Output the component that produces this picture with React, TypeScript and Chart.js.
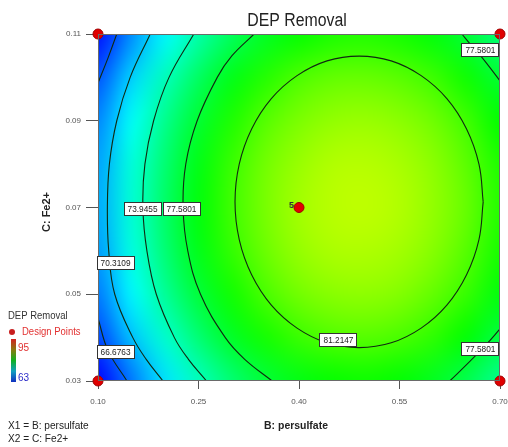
import React, { useEffect, useRef } from 'react';
import { Chart, registerables } from 'chart.js';

Chart.register(...registerables);

const SANS = '"Liberation Sans", Arial, sans-serif';

// Axis ticks
const xTicks = [0.1, 0.25, 0.4, 0.55, 0.7];
const yTicks = [0.03, 0.05, 0.07, 0.09, 0.11];

// Response surface grid (DEP removal %), read from the colour field
const xGrid = [0.1, 0.15, 0.2, 0.25, 0.3, 0.35, 0.4, 0.45, 0.5, 0.55, 0.6, 0.65, 0.7];
const yGrid = [0.11, 0.1, 0.09, 0.08, 0.07, 0.06, 0.05, 0.04, 0.03];
const row011 = [63.4, 67.4, 70.8, 73.7, 76.1, 77.9, 79.1, 79.8, 80.0, 79.6, 78.7, 77.2, 75.2];
const row010 = [65.6, 69.6, 73.1, 76.0, 78.3, 80.1, 81.4, 82.1, 82.2, 81.8, 80.9, 79.4, 77.4];
const row009 = [67.2, 71.2, 74.6, 77.5, 79.9, 81.7, 82.9, 83.6, 83.8, 83.4, 82.5, 81.0, 79.0];
const row008 = [68.1, 72.1, 75.5, 78.4, 80.8, 82.6, 83.8, 84.6, 84.7, 84.3, 83.4, 81.9, 79.9];
const row007 = [68.3, 72.3, 75.8, 78.7, 81.0, 82.8, 84.1, 84.8, 85.0, 84.6, 83.6, 82.2, 80.1];
const row006 = [67.9, 71.9, 75.4, 78.3, 80.6, 82.4, 83.7, 84.4, 84.5, 84.1, 83.2, 81.7, 79.7];
const row005 = [66.8, 70.8, 74.3, 77.2, 79.5, 81.3, 82.6, 83.3, 83.5, 83.1, 82.1, 80.7, 78.6];
const row004 = [65.1, 69.1, 72.5, 75.4, 77.8, 79.6, 80.8, 81.5, 81.7, 81.3, 80.4, 78.9, 76.9];
const row003 = [62.7, 66.7, 70.1, 73.0, 75.4, 77.2, 78.4, 79.1, 79.3, 78.9, 78.0, 76.5, 74.5];
const removalRows = [row011, row010, row009, row008, row007, row006, row005, row004, row003];

const colorMin = 63;
const colorMax = 95;

// Contour lines [persulfate, Fe2+]
const contour66Top = [[0.128, 0.11], [0.115, 0.1045], [0.1, 0.0987]];
const contour66Bottom = [[0.1, 0.0445], [0.115, 0.037], [0.1433, 0.03]];
const contour70 = [[0.178, 0.11], [0.148, 0.1], [0.128, 0.09], [0.117, 0.08], [0.114, 0.07], [0.116, 0.06], [0.125, 0.05], [0.152, 0.04], [0.172, 0.035], [0.197, 0.03]];
const contour74 = [[0.243, 0.11], [0.206, 0.1], [0.183, 0.09], [0.17, 0.08], [0.167, 0.07], [0.173, 0.06], [0.187, 0.05], [0.214, 0.04], [0.235, 0.035], [0.262, 0.03]];
const contour78Left = [[0.333, 0.11], [0.3, 0.105], [0.278, 0.1], [0.248, 0.09], [0.231, 0.08], [0.227, 0.07], [0.234, 0.06], [0.253, 0.05], [0.29, 0.04], [0.319, 0.035], [0.36, 0.03]];
const contour78TopRight = [[0.643, 0.11], [0.657, 0.1074], [0.673, 0.1046], [0.7, 0.0992]];
const contour78BottomRight = [[0.625, 0.03], [0.655, 0.0345], [0.68, 0.0385], [0.7, 0.042]];
const contour81 = [
  [0.6749, 0.0713], [0.6686, 0.08], [0.6501, 0.0881], [0.6207, 0.0951], [0.5823, 0.1004], [0.5376, 0.1038],
  [0.4897, 0.1049], [0.4418, 0.1038], [0.3971, 0.1004], [0.3587, 0.0951], [0.3293, 0.0881], [0.3108, 0.08],
  [0.3045, 0.0713], [0.3108, 0.0626], [0.3293, 0.0545], [0.3587, 0.0475], [0.3971, 0.0422], [0.4418, 0.0388],
  [0.4897, 0.0377], [0.5376, 0.0388], [0.5823, 0.0422], [0.6207, 0.0475], [0.6501, 0.0545], [0.6686, 0.0626],
  [0.6749, 0.0713],
];
const contourLines = [contour66Top, contour66Bottom, contour70, contour74, contour78Left, contour78TopRight, contour78BottomRight, contour81];

// Contour level labels
const labelText = ['77.5801', '73.9455', '77.5801', '70.3109', '66.6763', '81.2147', '77.5801'];
const labelX = [0.67, 0.1657, 0.2239, 0.1254, 0.1254, 0.4582, 0.67];
const labelY = [0.1065, 0.0697, 0.0697, 0.0574, 0.0367, 0.0395, 0.0374];

// Design points
const designX = [0.1, 0.1, 0.7, 0.7, 0.4];
const designY = [0.03, 0.11, 0.03, 0.11, 0.07];
const designCount = ['', '', '', '', '5'];

const stops: [number, number[]][] = [
  [0, [0, 0, 255]],
  [0.25, [0, 255, 255]],
  [0.5, [0, 255, 0]],
  [0.75, [255, 255, 0]],
  [1, [255, 0, 0]],
];

function colorFor(v: number): number[] {
  let t = (v - colorMin) / (colorMax - colorMin);
  t = Math.max(0, Math.min(1, t));
  for (let k = 0; k < stops.length - 1; k++) {
    const [t0, c0] = stops[k];
    const [t1, c1] = stops[k + 1];
    if (t <= t1) {
      const f = (t - t0) / (t1 - t0);
      return [0, 1, 2].map((i) => Math.round(c0[i] + (c1[i] - c0[i]) * f));
    }
  }
  return stops[stops.length - 1][1];
}

function squeezedText(ctx: CanvasRenderingContext2D, text: string, x: number, y: number, sx: number) {
  ctx.save();
  ctx.translate(x, y);
  ctx.scale(sx, 1);
  ctx.fillText(text, 0, 0);
  ctx.restore();
}

const heatmapPlugin = {
  id: 'heatmap',
  beforeDatasetsDraw(chart: any) {
    const { ctx, chartArea, scales } = chart;
    const xs = scales.x;
    const ys = scales.y;
    const nx = xGrid.length;
    const ny = yGrid.length;
    const off = document.createElement('canvas');
    off.width = nx;
    off.height = ny;
    const octx = off.getContext('2d')!;
    const img = octx.createImageData(nx, ny);
    for (let j = 0; j < ny; j++) {
      for (let i = 0; i < nx; i++) {
        const c = colorFor(removalRows[j][i]);
        const idx = (j * nx + i) * 4;
        img.data[idx] = c[0];
        img.data[idx + 1] = c[1];
        img.data[idx + 2] = c[2];
        img.data[idx + 3] = 255;
      }
    }
    octx.putImageData(img, 0, 0);
    const x0 = xs.getPixelForValue(xGrid[0]);
    const x1 = xs.getPixelForValue(xGrid[nx - 1]);
    const y0 = ys.getPixelForValue(yGrid[0]);
    const y1 = ys.getPixelForValue(yGrid[ny - 1]);
    const dx = (x1 - x0) / (nx - 1);
    const dy = (y1 - y0) / (ny - 1);
    ctx.save();
    ctx.beginPath();
    ctx.rect(chartArea.left, chartArea.top, chartArea.right - chartArea.left, chartArea.bottom - chartArea.top);
    ctx.clip();
    ctx.imageSmoothingEnabled = true;
    ctx.imageSmoothingQuality = 'high';
    ctx.drawImage(off, x0 - dx / 2, y0 - dy / 2, dx * nx, dy * ny);
    ctx.restore();
  },
  afterDatasetsDraw(chart: any) {
    const { ctx, chartArea, scales } = chart;
    const xs = scales.x;
    const ys = scales.y;
    ctx.save();
    // frame
    ctx.strokeStyle = '#6a6a6a';
    ctx.lineWidth = 1;
    ctx.strokeRect(chartArea.left + 0.5, chartArea.top + 0.5, chartArea.right - chartArea.left - 1, chartArea.bottom - chartArea.top - 1);
    // contour labels
    ctx.font = `9px ${SANS}`;
    ctx.textAlign = 'center';
    ctx.textBaseline = 'middle';
    for (let k = 0; k < labelText.length; k++) {
      const px = xs.getPixelForValue(labelX[k]);
      const py = ys.getPixelForValue(labelY[k]);
      const w = 37;
      const h = 13;
      ctx.fillStyle = '#ffffff';
      ctx.fillRect(Math.round(px - w / 2) + 0.5, Math.round(py - h / 2) + 0.5, w, h);
      ctx.strokeStyle = '#333333';
      ctx.strokeRect(Math.round(px - w / 2) + 0.5, Math.round(py - h / 2) + 0.5, w, h);
      ctx.fillStyle = '#222222';
      squeezedText(ctx, labelText[k], px + 0.5, py + 1, 0.92);
    }
    // design point counts
    ctx.font = `bold 9px ${SANS}`;
    ctx.textAlign = 'right';
    ctx.fillStyle = '#333';
    for (let k = 0; k < designX.length; k++) {
      if (!designCount[k]) continue;
      ctx.fillText(designCount[k], xs.getPixelForValue(designX[k]) - 5, ys.getPixelForValue(designY[k]) - 2);
    }
    ctx.restore();
  },
  afterDraw(chart: any) {
    const { ctx } = chart;
    ctx.save();
    ctx.fillStyle = '#222';
    ctx.textAlign = 'center';
    ctx.textBaseline = 'middle';
    ctx.font = `18px ${SANS}`;
    squeezedText(ctx, 'DEP Removal', 297, 21, 0.88);
    ctx.font = `bold 11px ${SANS}`;
    squeezedText(ctx, 'B: persulfate', 296, 426, 0.95);
    ctx.save();
    ctx.translate(47, 212);
    ctx.rotate(-Math.PI / 2);
    ctx.fillText('C: Fe2+', 0, 0);
    ctx.restore();

    // legend block
    ctx.textAlign = 'left';
    ctx.font = `10px ${SANS}`;
    ctx.fillStyle = '#333';
    squeezedText(ctx, 'DEP Removal', 8, 316, 0.95);
    ctx.fillStyle = '#c81e1e';
    ctx.beginPath();
    ctx.arc(12, 332, 3, 0, Math.PI * 2);
    ctx.fill();
    ctx.fillStyle = '#e23030';
    squeezedText(ctx, 'Design Points', 22, 332, 0.95);
    const g = ctx.createLinearGradient(0, 339, 0, 382);
    g.addColorStop(0, '#d42020');
    g.addColorStop(0.25, '#8a7a10');
    g.addColorStop(0.5, '#10b020');
    g.addColorStop(0.75, '#10a0c0');
    g.addColorStop(1, '#1030c0');
    ctx.fillStyle = g;
    ctx.fillRect(11, 339, 5, 43);
    ctx.fillStyle = '#e03030';
    ctx.fillText('95', 18, 348);
    ctx.fillStyle = '#2a2ac8';
    ctx.fillText('63', 18, 378);
    ctx.fillStyle = '#222';
    ctx.font = `11px ${SANS}`;
    squeezedText(ctx, 'X1 = B: persulfate', 8, 426, 0.92);
    squeezedText(ctx, 'X2 = C: Fe2+', 8, 439, 0.92);
    ctx.restore();
  },
};

export default function App() {
  const ref = useRef<HTMLCanvasElement>(null);
  useEffect(() => {
    if (!ref.current) return;
    const lineSets = contourLines.map((pts) => ({
      type: 'scatter' as const,
      data: pts.map(([x, y]) => ({ x, y })),
      showLine: true,
      borderColor: '#102a10',
      borderWidth: 1.1,
      pointRadius: 0,
      tension: 0.4,
      order: 2,
    }));
    const chart = new Chart(ref.current, {
      type: 'scatter',
      data: {
        datasets: [
          {
            data: designX.map((x, i) => ({ x, y: designY[i] })),
            pointRadius: 5,
            pointBackgroundColor: '#e00000',
            pointBorderColor: '#a00000',
            pointBorderWidth: 1,
            clip: false,
            order: 0,
          } as any,
          ...lineSets,
        ],
      },
      options: {
        responsive: false,
        animation: false,
        events: [],
        layout: { padding: { top: 34, right: 0, left: 0, bottom: 0 } },
        plugins: { legend: { display: false }, tooltip: { enabled: false }, title: { display: false } },
        scales: {
          x: {
            type: 'linear',
            min: 0.1,
            max: 0.7,
            afterBuildTicks: (s: any) => {
              s.ticks = xTicks.map((v) => ({ value: v }));
            },
            afterFit: (s: any) => {
              s.height = 66;
              s.paddingRight = 8;
              s.paddingLeft = 0;
            },
            ticks: {
              autoSkip: false,
              maxRotation: 0,
              padding: 8,
              color: '#555',
              font: { size: 8, family: SANS },
              callback: (v: any) => Number(v).toFixed(2),
            },
            grid: { display: true, drawOnChartArea: false, drawTicks: true, tickLength: 8, tickColor: '#555', color: '#555' },
            border: { display: false },
          },
          y: {
            type: 'linear',
            min: 0.03,
            max: 0.11,
            afterBuildTicks: (s: any) => {
              s.ticks = yTicks.map((v) => ({ value: v }));
            },
            afterFit: (s: any) => {
              s.width = 98;
            },
            ticks: {
              autoSkip: false,
              padding: 5,
              color: '#555',
              font: { size: 8, family: SANS },
              callback: (v: any) => Number(v).toFixed(2),
            },
            grid: { display: true, drawOnChartArea: false, drawTicks: true, tickLength: 12, tickColor: '#555', color: '#555' },
            border: { display: false },
          },
        },
      },
      plugins: [heatmapPlugin],
    });
    return () => chart.destroy();
  }, []);
  return (
    <div style={{ position: 'fixed', left: 0, top: 0, width: 508, height: 447, background: '#fff' }}>
      <canvas ref={ref} width={508} height={447} style={{ display: 'block', width: 508, height: 447 }} />
    </div>
  );
}
